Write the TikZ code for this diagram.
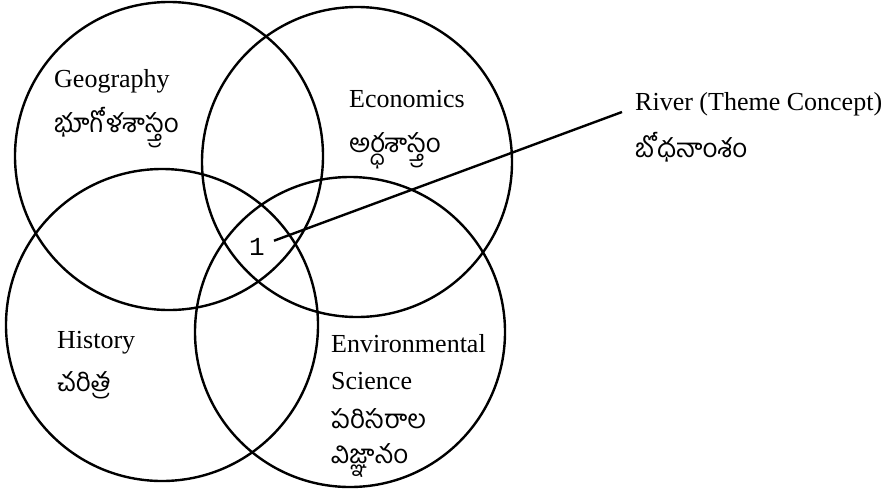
\documentclass[tikz,border=0pt]{standalone}
\usepackage{fontspec}
\setmainfont{Liberation Serif}
\setmonofont{Liberation Mono}
\newfontfamily\telugu[Script=Telugu]{Hind Guntur}

\begin{document}
\begin{tikzpicture}[x = 0.5pt, y = -0.5pt, line width = 1.2pt,
  every node/.style = {font = \fontsize{13}{16}\selectfont, inner sep = 0pt}]
\useasboundingbox (0, 0) rectangle (887, 493);
\draw (169, 156) circle (154);
\draw (357, 162) circle (155);
\draw (162, 325) circle (156);
\draw (350, 332) circle (155);
\node[anchor = base west] (geo) at (53, 87){Geography};
\node[anchor = base west] (geote) at (53, 132){\telugu భూగోళశాస్త్రం};
\node[anchor = base west] (eco) at (348, 107){Economics};
\node[anchor = base west] (ecote) at (348, 152){\telugu అర్ధశాస్త్రం};
\node[anchor = base west] (his) at (56, 348){History};
\node[anchor = base west] (histe) at (56, 391){\telugu చరిత్ర};
\node[anchor = base west] (env) at (330, 352){Environmental};
\node[anchor = base west] (sci) at (330, 389){Science};
\node[anchor = base west] (envte) at (330, 428){\telugu పరిసరాల};
\node[anchor = base west] (scite) at (330, 463){\telugu విజ్ఞానం};
\node[anchor = base west] (river) at (634, 110){River (Theme Concept)};
\node[anchor = base west] (riverte) at (634, 157){\telugu బోధనాంశం};
\node[inner sep = 4pt] (one) at (257, 247){\ttfamily 1};
\coordinate (riverend) at (622, 112);
\draw (one) -- (riverend);
\end{tikzpicture}
\end{document}
